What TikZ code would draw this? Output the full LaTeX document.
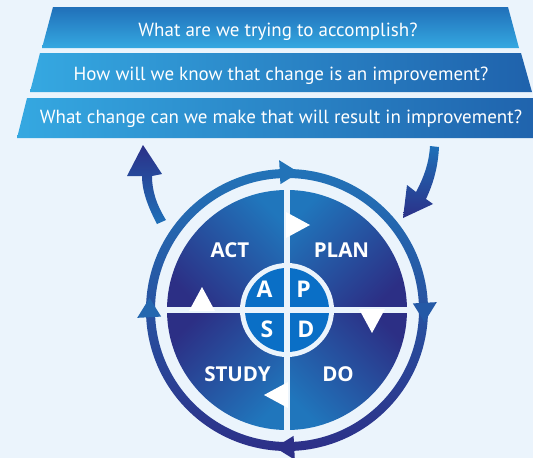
\documentclass[tikz,border=0pt]{standalone}
\usepackage{fontspec}
\setmainfont{PT Sans}
\newfontfamily\phasefont{Open Sans}
\definecolor{bgblue}{HTML}{EBF4FC}
\definecolor{lightblue}{HTML}{35A8E1}
\definecolor{bannertop}{HTML}{2070B9}
\definecolor{bannerright}{HTML}{1F62AC}
\definecolor{quadlight}{HTML}{2076BC}
\definecolor{quaddark}{HTML}{2C2F85}
\definecolor{ringtop}{HTML}{2273B8}
\definecolor{ringbottom}{HTML}{2D3088}
\definecolor{ringright}{HTML}{2459A6}
\definecolor{ringleft}{HTML}{2467AF}
\definecolor{centreblue}{HTML}{0A6FC6}
\definecolor{arrowlight}{HTML}{1F70B8}
\definecolor{arrowdark}{HTML}{2B3088}

\begin{document}
\begin{tikzpicture}
  [x=1pt,y=-1pt,every node/.style={text=white,inner sep=0pt,anchor=base},
   question/.style={font=\fontsize{19}{21}\selectfont},
   phase/.style={font=\phasefont\bfseries\fontsize{20.5}{22}\selectfont},
   letter/.style={font=\phasefont\bfseries\fontsize{23}{25}\selectfont}]
  \useasboundingbox[fill=bgblue] (0,0) rectangle (533,458);

  \shade[top color=bannertop,bottom color=lightblue] (53,7) -- (508,7) -- (519,48) -- (42,48) -- cycle;
  \shade[left color=lightblue,right color=bannerright] (40,53) -- (521,53) -- (532,92) -- (30,92) -- cycle;
  \shade[left color=lightblue,right color=bannerright] (27,98) -- (545,98) -- (545,138) -- (17,138) -- cycle;
  \node[question] (q1) at (278,36) {What are we trying to accomplish?};
  \node[question] (q2) at (281,80) {How will we know that change is an improvement?};
  \node[question] (q3) at (281,123) {What change can we make that will result in improvement?};

  \shade[top color=arrowdark,bottom color=arrowlight] (157,224) .. controls (148,207) and (142,191) .. (142,176)
    -- (127,176) -- (143,145) -- (162,174) -- (152,176) .. controls (152,190) and (156,204) .. (166,220) -- cycle;
  \shade[top color=arrowlight,bottom color=arrowdark] (430,146) -- (439,147) .. controls (438,166) and (434,182) .. (426,199)
    -- (433,204) -- (403,218) -- (407,185) -- (416,192) .. controls (424,177) and (429,163) .. (430,146) -- cycle;

  \begin{scope}[shift={(287,310)},yscale=-1]
    \shade[top color=ringtop,bottom color=ringbottom,even odd rule] (0,0) circle (141) (0,0) circle (132);
    \foreach \a/\c in {90/ringtop,0/ringright,270/ringbottom,180/ringleft}
      \fill[\c] (\a+3:126) -- (\a+3:150) -- (\a-5:138) -- cycle;

    \shade[top color=quadlight,bottom color=quaddark,shading angle=45] (0,0) -- (90:120) arc (90:0:120) -- cycle;
    \shade[top color=quadlight,bottom color=quaddark,shading angle=135] (0,0) -- (0:120) arc (0:-90:120) -- cycle;
    \shade[top color=quadlight,bottom color=quaddark,shading angle=225] (0,0) -- (270:120) arc (270:180:120) -- cycle;
    \shade[top color=quadlight,bottom color=quaddark,shading angle=315] (0,0) -- (180:120) arc (180:90:120) -- cycle;

    \fill[bgblue] (0,0) circle (47);
    \fill[centreblue] (0,0) circle (42);
    \draw[bgblue,line width=6pt] (-121,0) -- (121,0) (0,-121) -- (0,121);
    \foreach \r in {0,-90,-180,-270}
      \fill[white,rotate=\r] (-1,98) -- (-1,72) -- (23,85) -- cycle;

    \node[phase] (act) at (-57,53) {ACT};
    \node[phase] (plan) at (54.5,53) {PLAN};
    \node[phase] (study) at (-49.5,-71) {STUDY};
    \node[phase] (do) at (51,-71) {DO};
    \node[letter] (la) at (-22.5,13) {A};
    \node[letter] (lp) at (16.5,13) {P};
    \node[letter] (ls) at (-20,-27) {S};
    \node[letter] (ld) at (19,-27) {D};
  \end{scope}
\end{tikzpicture}
\end{document}
